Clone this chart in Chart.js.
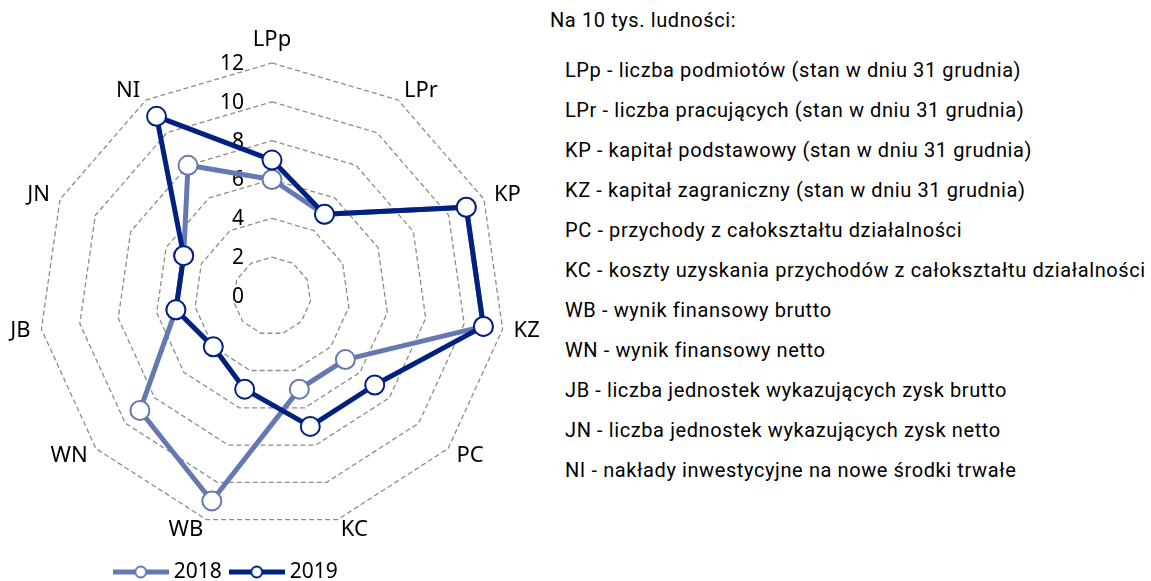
<!DOCTYPE html>
<html>
<head>
<meta charset="utf-8">
<script src="https://cdn.jsdelivr.net/npm/chart.js@4.4.1/dist/chart.umd.min.js"></script>
<style>
  html, body { margin: 0; padding: 0; background: #fff; }
  body { width: 1151px; height: 581px; overflow: hidden; position: relative; }
  #wykres { position: absolute; left: 0; top: 0; width: 545px; height: 581px; }
  #opis { position: absolute; left: 550px; top: 0; font-family: Roboto, sans-serif; font-size: 20px; letter-spacing: 0.6px; line-height: 40px; color: #000; white-space: nowrap; }
  #opis ul { list-style: none; margin: 10px 0 0 15px; padding: 0; }
</style>
</head>
<body>
<div id="wykres"><canvas id="radar" width="545" height="581"></canvas></div>
<div id="opis">
  <div>Na 10 tys. ludności:</div>
  <ul id="lista"></ul>
</div>
<script>
// dane
const kategorie = ['LPp', 'LPr', 'KP', 'KZ', 'PC', 'KC', 'WB', 'WN', 'JB', 'JN', 'NI'];
const lata = ['2018', '2019'];
const rok2018 = [6, 5, 11, 11, 5, 5, 11, 9, 5, 5, 8];
const rok2019 = [7, 5, 11, 11, 7, 7, 5, 4, 5, 5, 11];
const podzialka = [0, 2, 4, 6, 8, 10, 12];
const opisy = [
  'LPp - liczba podmiotów (stan w dniu 31 grudnia)',
  'LPr - liczba pracujących (stan w dniu 31 grudnia)',
  'KP - kapitał podstawowy (stan w dniu 31 grudnia)',
  'KZ - kapitał zagraniczny (stan w dniu 31 grudnia)',
  'PC - przychody z całokształtu działalności',
  'KC - koszty uzyskania przychodów z całokształtu działalności',
  'WB - wynik finansowy brutto',
  'WN - wynik finansowy netto',
  'JB - liczba jednostek wykazujących zysk brutto',
  'JN - liczba jednostek wykazujących zysk netto',
  'NI - nakłady inwestycyjne na nowe środki trwałe'
];

const jasny = '#6678b1';
const ciemny = '#00217f';

opisy.forEach((t) => {
  const li = document.createElement('li');
  li.textContent = t;
  document.getElementById('lista').appendChild(li);
});

// ikona legendy: linia z kółkiem
function ikona(kolor) {
  const c = document.createElement('canvas');
  c.width = 56; c.height = 16;
  const g = c.getContext('2d');
  g.strokeStyle = kolor;
  g.lineWidth = 5;
  g.beginPath(); g.moveTo(0, 8); g.lineTo(56, 8); g.stroke();
  g.beginPath(); g.arc(28, 8, 5.5, 0, Math.PI * 2);
  g.fillStyle = '#fff'; g.fill();
  g.lineWidth = 2; g.stroke();
  return c;
}
const ikony = [ikona(jasny), ikona(ciemny)];

// podpisy osi i wartości skali
const opisOsi = {
  id: 'opisOsi',
  beforeDatasetsDraw(chart) {
    const r = chart.scales.r;
    const ctx = chart.ctx;
    ctx.save();
    ctx.fillStyle = '#000';
    ctx.font = '21px "Noto Sans"';
    ctx.textAlign = 'right';
    ctx.textBaseline = 'middle';
    podzialka.forEach((v) => {
      ctx.fillText(String(v), r.xCenter - 28, r.yCenter - r.getDistanceFromCenterForValue(v) + 1);
    });
    ctx.font = '22px "Noto Sans"';
    ctx.textAlign = 'center';
    const pad = 11;
    kategorie.forEach((lab, i) => {
      const p = r.getPointPosition(i, r.drawingArea);
      const ux = (p.x - r.xCenter) / r.drawingArea;
      const uy = (p.y - r.yCenter) / r.drawingArea;
      const w = ctx.measureText(lab).width;
      let x = p.x + ux * pad;
      let y = p.y + uy * pad;
      if (Math.abs(ux) < 0.05) {
        y += Math.sign(uy) * 12;
      } else {
        x += Math.sign(ux) * w / 2;
      }
      ctx.fillText(lab, x, y);
    });
    ctx.restore();
  }
};

const przesunLegende = {
  id: 'przesunLegende',
  afterLayout(chart) {
    const l = chart.legend;
    l.left -= 44; l.right -= 44;
    l.top += 20; l.bottom += 20;
  }
};

Chart.defaults.font.family = '"Noto Sans"';
Chart.defaults.color = '#000';

const ctx = document.getElementById('radar').getContext('2d');
const chart = new Chart(ctx, {
  type: 'radar',
  data: {
    labels: kategorie,
    datasets: [{
      label: lata[0],
      data: rok2018,
      borderColor: jasny,
      pointBorderColor: jasny,
      order: 2
    }, {
      label: lata[1],
      data: rok2019,
      borderColor: ciemny,
      pointBorderColor: ciemny,
      order: 1
    }]
  },
  options: {
    responsive: false,
    animation: false,
    events: [],
    layout: { padding: { top: 63, left: 39, right: 40, bottom: 8.5 } },
    elements: {
      line: { borderWidth: 5, fill: false, tension: 0, borderJoinStyle: 'round' },
      point: { radius: 9.5, borderWidth: 2, backgroundColor: '#fff' }
    },
    scales: {
      r: {
        min: podzialka[0],
        max: podzialka[podzialka.length - 1],
        ticks: { stepSize: 2, display: false },
        pointLabels: { display: false },
        angleLines: { display: false },
        grid: { color: '#8c8c8c', lineWidth: 1.3 },
        border: { dash: [5, 3] }
      }
    },
    plugins: {
      tooltip: { enabled: false },
      legend: {
        position: 'bottom',
        labels: {
          usePointStyle: true,
          pointStyleWidth: 45,
          padding: 12.5,
          font: { size: 21 },
          color: '#000',
          sort: (a, b) => a.datasetIndex - b.datasetIndex,
          generateLabels: (ch) => {
            const items = Chart.defaults.plugins.legend.labels.generateLabels(ch);
            items.forEach((it) => { it.pointStyle = ikony[it.datasetIndex]; });
            return items;
          }
        }
      }
    }
  },
  plugins: [opisOsi, przesunLegende]
});
</script>
</body>
</html>
